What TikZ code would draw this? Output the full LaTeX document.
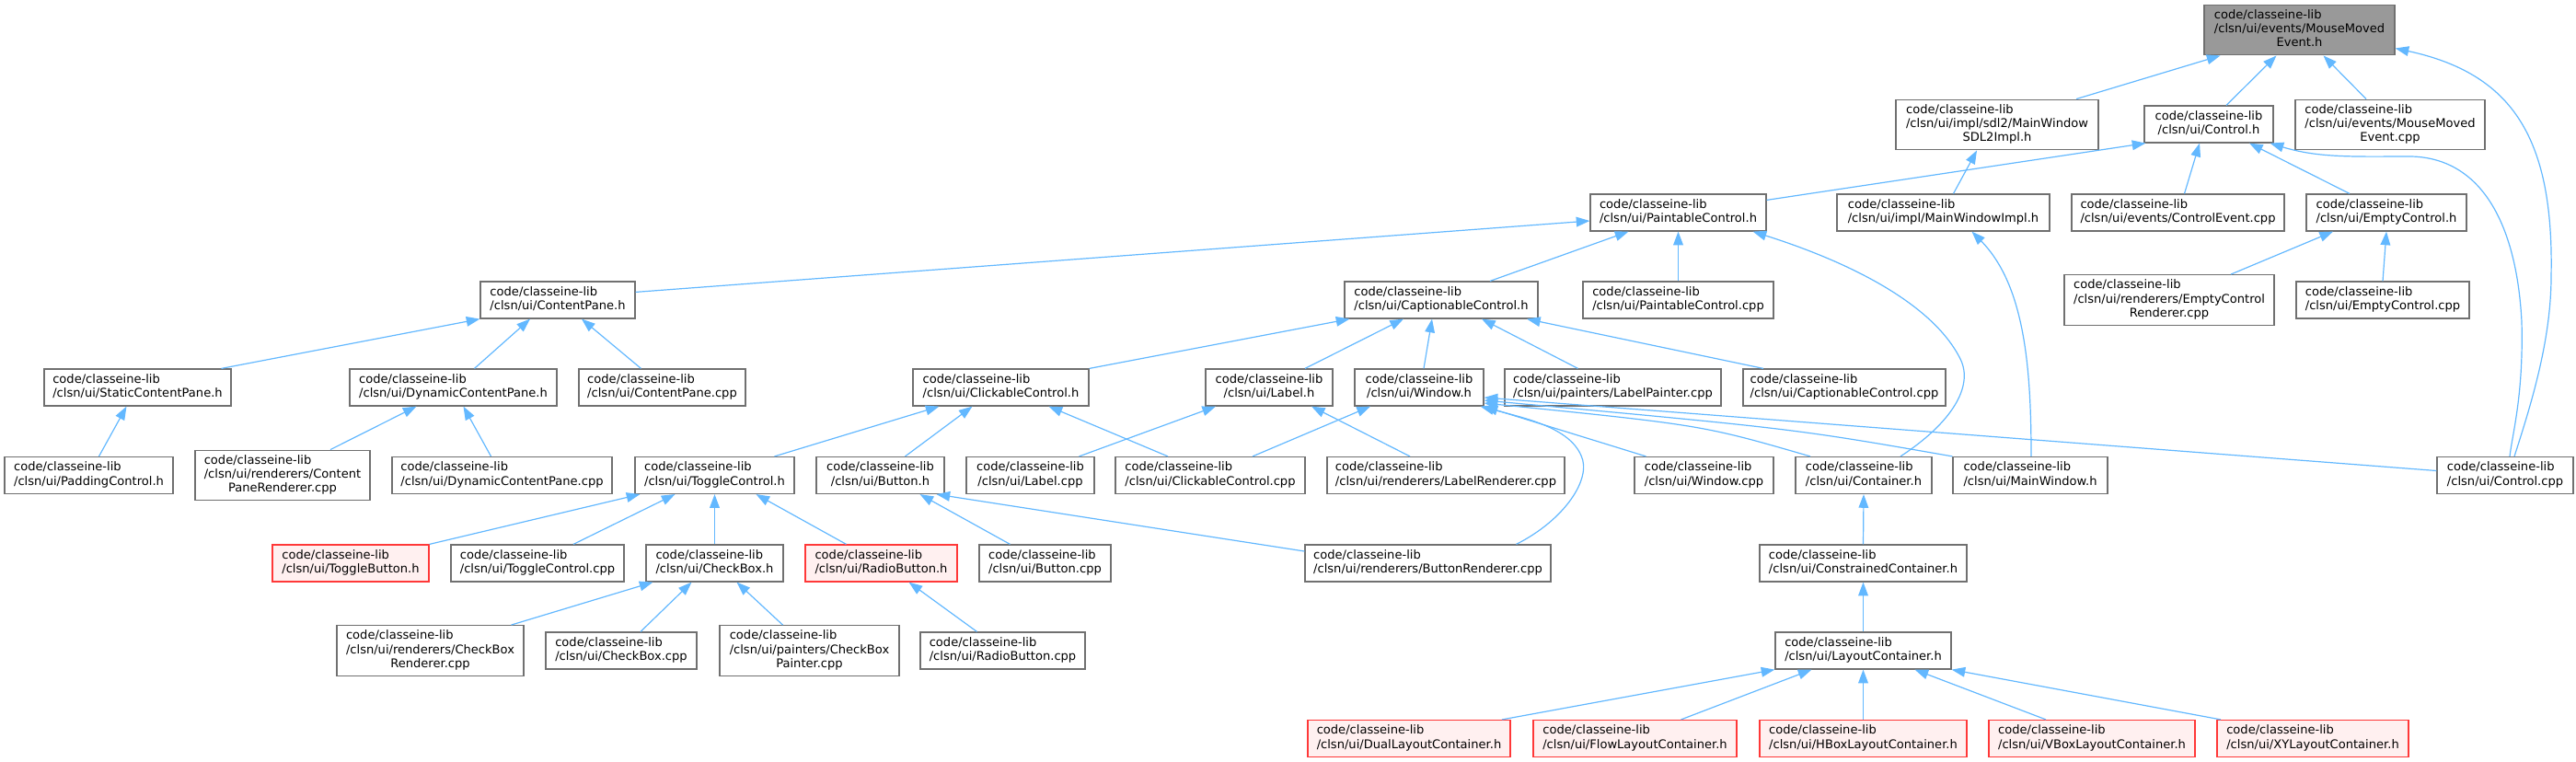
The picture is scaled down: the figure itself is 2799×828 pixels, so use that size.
\documentclass[tikz,border=0pt]{standalone}
\usepackage{fontspec}
\setmainfont{DejaVu Sans}
\usetikzlibrary{calc,arrows.meta}
\definecolor{edgeblue}{HTML}{63B8FF}
\definecolor{nodeborder}{HTML}{707070}
\definecolor{rootfill}{HTML}{999999}
\definecolor{redfill}{HTML}{FFF0F0}
\definecolor{redline}{HTML}{FF3838}
\newcommand\nlab[2]{\begin{tabular}{@{}l@{}}#1\\\multicolumn{1}{@{}c@{}}{#2}\end{tabular}}
\tikzset{
  nd/.style={draw=nodeborder, fill=white, line width=0.9pt, inner sep=0pt,
    minimum height=30pt, font=\fontsize{9.8}{11.5}\selectfont, text=black},
  three/.style={minimum height=41pt},
  bw/.style={minimum width={#1*0.75pt}},
  redn/.style={draw=redline, fill=redfill},
  rootn/.style={fill=rootfill},
  ed/.style={draw=edgeblue, line width=0.9pt, -{Triangle[length=11pt,width=8pt]}}
}
\begin{document}
\begin{tikzpicture}[x=0.75pt,y=-0.75pt]
\useasboundingbox (0,0) rectangle (2799,828);
% row 0
\node[nd,three,rootn,bw=207] (mme) at (2498.5,32.5) {\nlab{code/classeine-lib\\/clsn/ui/events/MouseMoved}{Event.h}};
% row 1
\node[nd,three,bw=220] (sdl) at (2170,135.5) {\nlab{code/classeine-lib\\/clsn/ui/impl/sdl2/MainWindow}{SDL2Impl.h}};
\node[nd,bw=140] (ctrl) at (2400,135) {\nlab{code/classeine-lib}{/clsn/ui/Control.h}};
\node[nd,three,bw=206] (mmecpp) at (2597,135.5) {\nlab{code/classeine-lib\\/clsn/ui/events/MouseMoved}{Event.cpp}};
% row 2
\node[nd,bw=191] (pch) at (1823.5,231) {\nlab{code/classeine-lib}{/clsn/ui/PaintableControl.h}};
\node[nd,bw=231] (mwi) at (2111.5,231) {\nlab{code/classeine-lib}{/clsn/ui/impl/MainWindowImpl.h}};
\node[nd,bw=231] (cev) at (2366.5,231) {\nlab{code/classeine-lib}{/clsn/ui/events/ControlEvent.cpp}};
\node[nd,bw=174] (ech) at (2593,231) {\nlab{code/classeine-lib}{/clsn/ui/EmptyControl.h}};
% row 3
\node[nd,bw=168] (cp) at (606,326) {\nlab{code/classeine-lib}{/clsn/ui/ContentPane.h}};
\node[nd,bw=210] (cch) at (1566,326) {\nlab{code/classeine-lib}{/clsn/ui/CaptionableControl.h}};
\node[nd,bw=207] (pcc) at (1823.5,326) {\nlab{code/classeine-lib}{/clsn/ui/PaintableControl.cpp}};
\node[nd,three,bw=228] (ecr) at (2357,326) {\nlab{code/classeine-lib\\/clsn/ui/renderers/EmptyControl}{Renderer.cpp}};
\node[nd,bw=188] (ecc) at (2589,326) {\nlab{code/classeine-lib}{/clsn/ui/EmptyControl.cpp}};
% row 4
\node[nd,bw=203] (scp) at (149.5,421) {\nlab{code/classeine-lib}{/clsn/ui/StaticContentPane.h}};
\node[nd,bw=225] (dcp) at (492.5,421) {\nlab{code/classeine-lib}{/clsn/ui/DynamicContentPane.h}};
\node[nd,bw=181] (cpc) at (719.5,421) {\nlab{code/classeine-lib}{/clsn/ui/ContentPane.cpp}};
\node[nd,bw=191] (clch) at (1087.5,421) {\nlab{code/classeine-lib}{/clsn/ui/ClickableControl.h}};
\node[nd,bw=138] (lab) at (1379,421) {\nlab{code/classeine-lib}{/clsn/ui/Label.h}};
\node[nd,bw=140] (win) at (1542,421) {\nlab{code/classeine-lib}{/clsn/ui/Window.h}};
\node[nd,bw=235] (lpc) at (1752.5,421) {\nlab{code/classeine-lib}{/clsn/ui/painters/LabelPainter.cpp}};
\node[nd,bw=220] (ccc) at (2004,421) {\nlab{code/classeine-lib}{/clsn/ui/CaptionableControl.cpp}};
% row 5
\node[nd,bw=183] (pad) at (96.5,516.5) {\nlab{code/classeine-lib}{/clsn/ui/PaddingControl.h}};
\node[nd,three,bw=190] (cpr) at (307,516.5) {\nlab{code/classeine-lib\\/clsn/ui/renderers/Content}{PaneRenderer.cpp}};
\node[nd,bw=239] (dcc) at (545.5,516.5) {\nlab{code/classeine-lib}{/clsn/ui/DynamicContentPane.cpp}};
\node[nd,bw=173] (tch) at (776.5,516.5) {\nlab{code/classeine-lib}{/clsn/ui/ToggleControl.h}};
\node[nd,bw=139] (bth) at (956.5,516.5) {\nlab{code/classeine-lib}{/clsn/ui/Button.h}};
\node[nd,bw=139] (lac) at (1119.5,516.5) {\nlab{code/classeine-lib}{/clsn/ui/Label.cpp}};
\node[nd,bw=206] (clcc) at (1315,516.5) {\nlab{code/classeine-lib}{/clsn/ui/ClickableControl.cpp}};
\node[nd,bw=258] (lrc) at (1571,516.5) {\nlab{code/classeine-lib}{/clsn/ui/renderers/LabelRenderer.cpp}};
\node[nd,bw=151] (wic) at (1851.5,516.5) {\nlab{code/classeine-lib}{/clsn/ui/Window.cpp}};
\node[nd,bw=148] (cth) at (2025,516.5) {\nlab{code/classeine-lib}{/clsn/ui/Container.h}};
\node[nd,bw=168] (mwh) at (2206,516.5) {\nlab{code/classeine-lib}{/clsn/ui/MainWindow.h}};
\node[nd,bw=148] (ccp) at (2722,516.5) {\nlab{code/classeine-lib}{/clsn/ui/Control.cpp}};
% row 6
\node[nd,redn,bw=170] (tbh) at (381,612) {\nlab{code/classeine-lib}{/clsn/ui/ToggleButton.h}};
\node[nd,bw=188] (tcc) at (584,612) {\nlab{code/classeine-lib}{/clsn/ui/ToggleControl.cpp}};
\node[nd,bw=149] (cbh) at (776.5,612) {\nlab{code/classeine-lib}{/clsn/ui/CheckBox.h}};
\node[nd,redn,bw=165] (rbh) at (957.5,612) {\nlab{code/classeine-lib}{/clsn/ui/RadioButton.h}};
\node[nd,bw=143] (btc) at (1135.5,612) {\nlab{code/classeine-lib}{/clsn/ui/Button.cpp}};
\node[nd,bw=267] (brc) at (1551.5,612) {\nlab{code/classeine-lib}{/clsn/ui/renderers/ButtonRenderer.cpp}};
\node[nd,bw=225] (coc) at (2024.5,612) {\nlab{code/classeine-lib}{/clsn/ui/ConstrainedContainer.h}};
% row 7
\node[nd,three,bw=203] (cbr) at (467.5,707) {\nlab{code/classeine-lib\\/clsn/ui/renderers/CheckBox}{Renderer.cpp}};
\node[nd,bw=164] (cbc) at (675,707) {\nlab{code/classeine-lib}{/clsn/ui/CheckBox.cpp}};
\node[nd,three,bw=195] (cbp) at (879.5,707) {\nlab{code/classeine-lib\\/clsn/ui/painters/CheckBox}{Painter.cpp}};
\node[nd,bw=179] (rbc) at (1089.5,707) {\nlab{code/classeine-lib}{/clsn/ui/RadioButton.cpp}};
\node[nd,bw=191] (lyc) at (2024.5,707) {\nlab{code/classeine-lib}{/clsn/ui/LayoutContainer.h}};
% row 8
\node[nd,redn,bw=220] (dlc) at (1531,802.5) {\nlab{code/classeine-lib}{/clsn/ui/DualLayoutContainer.h}};
\node[nd,redn,bw=221] (flc) at (1776.5,802.5) {\nlab{code/classeine-lib}{/clsn/ui/FlowLayoutContainer.h}};
\node[nd,redn,bw=225] (hbc) at (2024.5,802.5) {\nlab{code/classeine-lib}{/clsn/ui/HBoxLayoutContainer.h}};
\node[nd,redn,bw=224] (vbc) at (2273,802.5) {\nlab{code/classeine-lib}{/clsn/ui/VBoxLayoutContainer.h}};
\node[nd,redn,bw=208] (xyc) at (2513,802.5) {\nlab{code/classeine-lib}{/clsn/ui/XYLayoutContainer.h}};
% edges (child -> parent, tip at parent)
\draw[ed] ($(sdl.north)+(86,0)$) -- ($(mme.south)+(-86,0)$);
\draw[ed] ($(ctrl.north)+(19,0)$) -- ($(mme.south)+(-25,0)$);
\draw[ed] ($(mmecpp.north)+(-26,0)$) -- ($(mme.south)+(26,0)$);
\draw[ed] ($(ccp.north)+(10,0)$) .. controls (2750,440) and (2772,370) .. (2772,300) .. controls (2775,150) and (2730,80) .. ($(mme.east)+(0,20)$);
\draw[ed] ($(pch.north east)+(0,7)$) -- ($(ctrl.south west)+(2,0)$);
\draw[ed] ($(cev.north)+(7,0)$) -- ($(ctrl.south)+(-10,0)$);
\draw[ed] ($(ech.north)+(-40,0)$) -- ($(ctrl.south)+(44,0)$);
\draw[ed] ($(ccp.north)+(5,0)$) .. controls (2730,470) and (2742,430) .. (2740,350) .. controls (2735,250) and (2700,172) .. (2620,170) .. controls (2560,170) and (2520,172) .. ($(ctrl.south east)+(-4,0)$);
\draw[ed] ($(mwi.north)+(11,0)$) -- ($(sdl.south)+(-22,0)$);
\draw[ed] ($(mwh.north)+(1,0)$) .. controls (2207,400) and (2200,310) .. ($(mwi.south)+(31,0)$);
\draw[ed] ($(cp.north east)+(0,12)$) -- ($(pch.west)+(0,9)$);
\draw[ed] ($(cch.north)+(53,0)$) -- ($(pch.south)+(-54,0)$);
\draw[ed] (pcc.north) -- (pch.south);
\draw[ed] ($(cth.north)+(40,0)$) .. controls (2120,460) and (2145,420) .. (2130,390) .. controls (2100,330) and (2010,285) .. ($(pch.south east)+(-15,0)$);
\draw[ed] ($(ecr.north)+(67,0)$) -- ($(ech.south)+(-58,0)$);
\draw[ed] (ecc.north) -- (ech.south);
\draw[ed] ($(scp.north)+(91,0)$) -- (cp.south west);
\draw[ed] ($(dcp.north)+(23,0)$) -- ($(cp.south)+(-30,0)$);
\draw[ed] ($(cpc.north)+(-23,0)$) -- ($(cp.south)+(26,0)$);
\draw[ed] ($(pad.north)+(11,0)$) -- ($(scp.south)+(-12,0)$);
\draw[ed] ($(cpr.north)+(52,0)$) -- ($(dcp.south)+(-40,0)$);
\draw[ed] ($(dcc.north)+(-12,0)$) -- ($(dcp.south)+(11,0)$);
\draw[ed] (clch.north east) -- ($(cch.south west)+(6,0)$);
\draw[ed] ($(lab.north)+(39,0)$) -- ($(cch.south)+(-41,0)$);
\draw[ed] ($(win.north)+(5,0)$) -- ($(cch.south)+(-10,0)$);
\draw[ed] ($(lpc.north)+(-38,0)$) -- ($(cch.south)+(44,0)$);
\draw[ed] ($(ccc.north)+(-88,0)$) -- ($(cch.south)+(93,0)$);
\draw[ed] ($(tch.north)+(65,0)$) -- ($(clch.south)+(-67,0)$);
\draw[ed] ($(bth.north)+(27,0)$) -- ($(clch.south)+(-31,0)$);
\draw[ed] ($(clcc.north)+(-46,0)$) -- ($(clch.south)+(52,0)$);
\draw[ed] ($(lac.north)+(53,0)$) -- ($(lab.south)+(-58,0)$);
\draw[ed] ($(lrc.north)+(-39,0)$) -- ($(lab.south)+(46,0)$);
\draw[ed] ($(clcc.north)+(46,0)$) -- ($(win.south)+(-53,0)$);
\draw[ed] ($(brc.north)+(96,0)$) .. controls (1700,565) and (1730,520) .. (1718,495) .. controls (1705,465) and (1660,455) .. ($(win.south east)+(-4,0)$);
\draw[ed] ($(wic.north)+(-63,0)$) -- (win.south east);
\draw[ed] ($(cth.north)+(-58,0)$) .. controls (1850,462) .. ($(win.east)+(0,17)$);
\draw[ed] (mwh.north west) .. controls (1950,466) .. ($(win.east)+(0,14)$);
\draw[ed] ($(ccp.west)+(0,-5)$) -- ($(win.east)+(0,11)$);
\draw[ed] ($(btc.north)+(-38,0)$) -- ($(bth.south)+(43,0)$);
\draw[ed] ($(brc.west)+(0,-13)$) -- ($(bth.south)+(61,0)$);
\draw[ed] (tbh.north east) -- ($(tch.south west)+(6,0)$);
\draw[ed] ($(tcc.north)+(39,0)$) -- ($(tch.south)+(-43,0)$);
\draw[ed] (cbh.north) -- (tch.south);
\draw[ed] ($(rbh.north)+(-38,0)$) -- ($(tch.south)+(45,0)$);
\draw[ed] ($(cbr.north)+(88,0)$) -- ($(cbh.south)+(-67,0)$);
\draw[ed] ($(cbc.north)+(21,0)$) -- ($(cbh.south)+(-25,0)$);
\draw[ed] ($(cbp.north)+(-29,0)$) -- ($(cbh.south)+(24,0)$);
\draw[ed] ($(rbc.north)+(-28,0)$) -- ($(rbh.south)+(30,0)$);
\draw[ed] (coc.north) -- (cth.south);
\draw[ed] (lyc.north) -- (coc.south);
\draw[ed] ($(dlc.north)+(101,0)$) -- (lyc.south west);
\draw[ed] ($(flc.north)+(50,0)$) -- ($(lyc.south)+(-56,0)$);
\draw[ed] (hbc.north) -- (lyc.south);
\draw[ed] ($(vbc.north)+(-50,0)$) -- ($(lyc.south)+(56,0)$);
\draw[ed] ($(xyc.north)+(-100,0)$) -- (lyc.south east);
\end{tikzpicture}
\end{document}
